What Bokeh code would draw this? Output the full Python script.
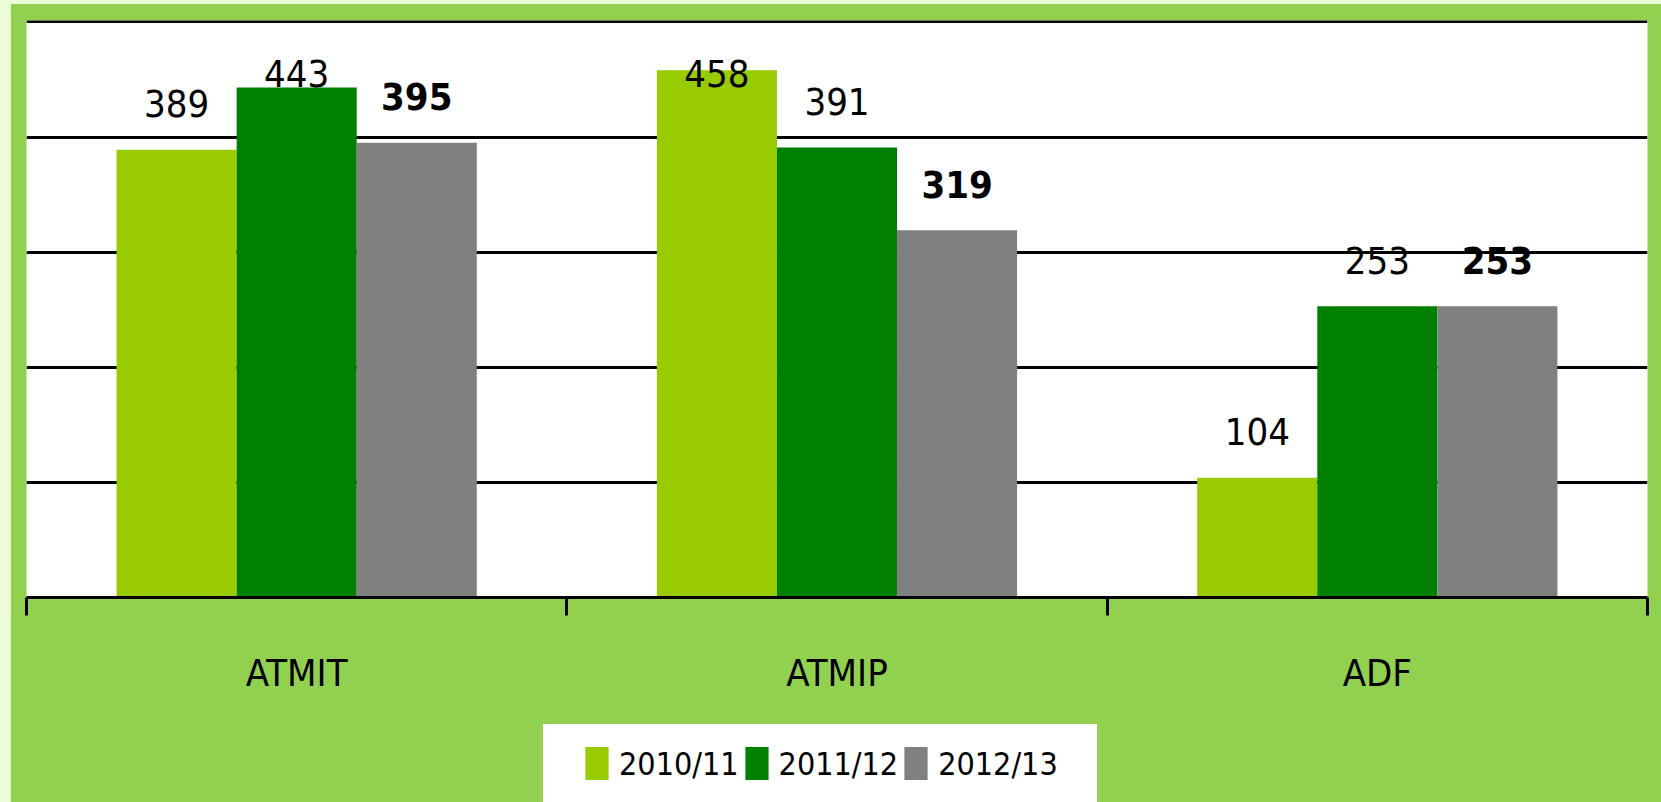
import numpy as np
from bokeh.plotting import figure
from bokeh.layouts import column, row
from bokeh.models import (ColumnDataSource, Range1d, LinearAxis, Spacer,
                          FixedTicker, Legend, LegendItem, Grid)
from bokeh.core.properties import value
from bokeh.embed import file_html
from bokeh.resources import INLINE

# ---- data ----
categories = ["ATMIT", "ATMIP", "ADF"]
years = ["2010/11", "2011/12", "2012/13"]
v_2010_11 = [389, 458, 104]
v_2011_12 = [443, 391, 253]
v_2012_13 = [395, 319, 253]
series = [v_2010_11, v_2011_12, v_2012_13]
colors = ["#99CC00", "#008000", "#808080"]
grid_values = [100, 200, 300, 400, 500]

FONT = "'DejaVu Sans Condensed', 'Liberation Sans', sans-serif"
BG = "#92D050"
PALE = "#ECFCD9"

ncat = len(categories)
centers = np.arange(ncat) + 0.5
bw = 2.0 / 9.0
offsets = [-bw, 0.0, bw]

p = figure(x_range=Range1d(0, ncat), y_range=Range1d(0, 501.3),
           width=1650, height=720, output_backend="svg", toolbar_location=None,
           x_axis_location=None, y_axis_location=None,
           min_border_left=15, min_border_right=14, min_border_top=16, min_border_bottom=127,
           styles={"background-color": BG})
p.background_fill_color = "white"
p.border_fill_color = BG
p.outline_line_color = None
p.renderers = [r for r in p.renderers if not isinstance(r, Grid)]
p.center = [r for r in p.center if not isinstance(r, Grid)]

grid = Grid(dimension=1, ticker=FixedTicker(ticks=grid_values),
            grid_line_color="black", grid_line_width=3)
p.add_layout(grid)

sources = []
for vals, col, off, k in zip(series, colors, offsets, range(3)):
    vals_a = np.array(vals, dtype=float)
    src = ColumnDataSource(dict(x=centers + off, top=vals_a,
                                ly=np.minimum(vals_a + 40, 455),
                                txt=[str(v) for v in vals]))
    sources.append(src)
    p.vbar(x="x", top="top", width=bw, source=src, fill_color=col, line_color=None)
    p.text(x="x", y="ly", text="txt", source=src,
           text_align="center", text_baseline="middle", text_font=value(FONT),
           text_font_size="38px", text_color="black",
           text_font_style="bold" if k == 2 else "normal")

xaxis = LinearAxis(ticker=FixedTicker(ticks=list(centers), minor_ticks=list(range(ncat + 1))),
                   major_label_overrides={float(c): name for c, name in zip(centers, categories)},
                   major_tick_line_color=None, major_tick_out=0, major_tick_in=0,
                   minor_tick_in=0, minor_tick_out=18, minor_tick_line_width=3,
                   minor_tick_line_color="black",
                   axis_line_width=3, axis_line_color="black",
                   major_label_text_font=FONT, major_label_text_font_size="38px",
                   major_label_text_color="black", major_label_standoff=35)
p.add_layout(xaxis, "below")

# legend strip (same series, far outside its visible range; only the legend shows)
pl = figure(x_range=Range1d(0, ncat), y_range=Range1d(1000, 1001), width=1650, height=78,
            output_backend="svg", toolbar_location=None,
            x_axis_location=None, y_axis_location=None,
            min_border_left=0, min_border_right=0, min_border_top=0, min_border_bottom=0,
            styles={"background-color": BG})
pl.background_fill_color = BG
pl.border_fill_color = BG
pl.outline_line_color = None
pl.renderers = [r for r in pl.renderers if not isinstance(r, Grid)]
pl.center = [r for r in pl.center if not isinstance(r, Grid)]
items = []
for yr, col, src in zip(years, colors, sources):
    r = pl.vbar(x="x", top="top", width=bw, source=src, fill_color=col, line_color=None)
    items.append(LegendItem(label=yr, renderers=[r]))
legend = Legend(items=items, orientation="horizontal", location="left",
                background_fill_color="white", background_fill_alpha=1.0,
                border_line_color="white", border_line_width=22,
                glyph_width=29, glyph_height=41,
                label_text_font=FONT, label_text_font_size="32px", label_height=41,
                label_text_color="black",
                label_standoff=8, spacing=3, padding=17, margin=517)
pl.add_layout(legend)

top_strip = Spacer(width=1661, height=4, styles={"background-color": PALE})
left_strip = Spacer(width=11, height=798, styles={"background-color": PALE})
page = column(top_strip, row(left_strip, column(p, pl, spacing=0), spacing=0), spacing=0)

open("out.html", "w").write(file_html(page, INLINE))
